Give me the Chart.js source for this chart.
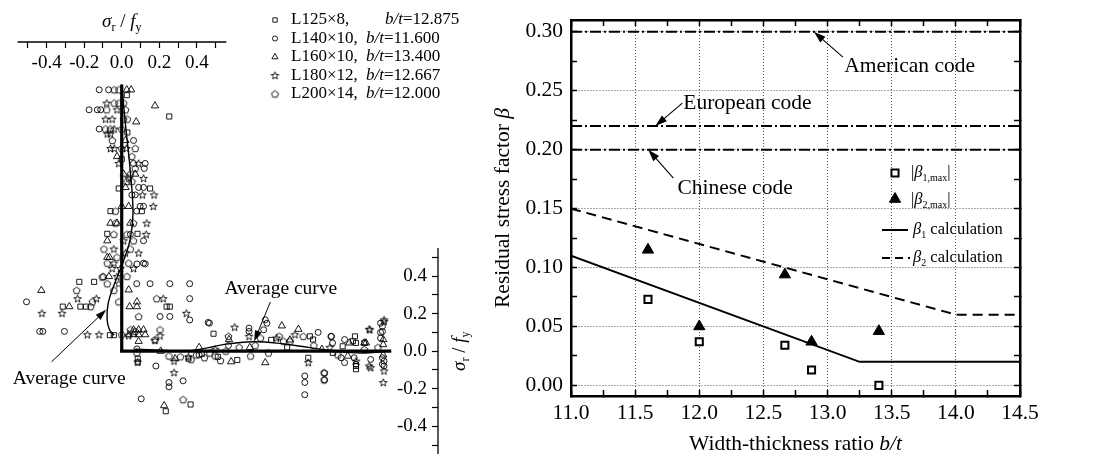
<!DOCTYPE html>
<html lang="en">
<head>
<meta charset="UTF-8">
<title>Residual stress of angles</title>
<script src="https://cdn.jsdelivr.net/npm/chart.js"></script>
<style>
  body { margin: 0; background: #fff; }
  #wrap { position: relative; width: 1101px; height: 459px; overflow: hidden; }
  #left { position: absolute; left: 0; top: 0; }
  #right { position: absolute; left: 480px; top: 0; }
</style>
</head>
<body>
<div id="wrap">
  <canvas id="left" width="480" height="459"></canvas>
  <canvas id="right" width="621" height="459"></canvas>
</div>
<script>
// ---------- left panel data ----------
const specimens = ['L125×8', 'L140×10', 'L160×10', 'L180×12', 'L200×14'];
const specimenRatio = ['12.875', '11.600', '13.400', '12.667', '12.000'];
const sigmaTicks = [-0.4, -0.2, 0.0, 0.2, 0.4];

// vertical leg: [sigma_r/f_y, position along leg (% of b)]
const vertL125 = [[0.027,96],[0.253,88],[-0.016,61],[0.151,61],[-0.06,52.5],[0.107,52.5],[-0.077,44],[0.084,44],
  [-0.226,26],[-0.147,26],[-0.314,16.7],[-0.22,16.7],[-0.19,16.7],[0.256,16.7],[0.239,16.7],[-0.063,6],[-0.042,6],[0.0,72],[0.03,82]];
const vertL140 = [[-0.12,98],[-0.07,98],[-0.174,90.5],[-0.13,90.5],[-0.112,90.5],[-0.12,83.3],[0.063,79],[0.063,70.4],
  [0.125,70.4],[0.12,68.5],[0.09,61.4],[0.116,61.4],[0.054,58.6],[0.072,58.6],[0.098,54.3],[0.116,54.3],[0.08,52.5],
  [0.046,43.8],[0.116,41.4],[0.116,33],[0.08,25.3],[0.151,25.3],[0.256,25.3],[0.362,25.3],[0.362,19.7],[0.204,13],
  [0.256,13],[0.362,11.7],[0.467,10.5],[-0.437,7.4],[-0.42,7.4],[-0.305,7.4],[-0.507,18.5],[0.081,32.7],[0.125,32.7]];
const vertL160 = [[0.027,98],[0.05,98],[0.177,92],[0.077,86],[0.02,79],[-0.025,73],[0.01,66.4],[0.072,66.4],[0.02,61.4],
  [0,54.3],[0.037,54.3],[-0.06,48],[0.046,48],[-0.025,48],[-0.077,41.4],[-0.077,35.2],[-0.065,35.2],[-0.068,28],
  [-0.428,22.8],[0.037,23],[0.081,18.5],[0.042,16.7],[0.081,16.7],[0.063,8],[0.09,8],[0.116,8],[0.037,6.2],[0.063,6.2],
  [0.09,6.2],[0.125,6.2],[-0.279,16.7],[0.09,3.7]];
const vertL180 = [[-0.08,93],[-0.025,90.5],[-0.086,87],[-0.051,87],[-0.04,83.3],[-0.077,81.5],[-0.06,81.5],[-0.06,76],
  [-0.04,76],[0.025,76],[-0.016,70.4],[0.09,70.4],[0.037,64.8],[0.116,64.8],[0.11,58.6],[0.172,58.6],[0.168,54.3],
  [0.133,48],[0.13,43.8],[0.01,41.4],[-0.042,38.3],[0.02,36.8],[0.09,36.8],[-0.042,33],[-0.051,31],[-0.007,31],[0.063,31],
  [-0.025,28],[-0.016,25.3],[-0.235,19.7],[-0.135,19.7],[0.221,19.7],[-0.425,14.2],[-0.318,14.2],[0.344,14.2],
  [-0.183,6.2],[-0.121,6.2],[0.037,5.8],[0.204,5.8],[0.177,4]];
const vertL200 = [[-0.04,98],[-0.015,98],[-0.04,93],[-0.015,93],[0.01,93],[-0.08,90.5],[0.02,90.5],[0.01,87],[0.03,87],
  [-0.086,83.3],[-0.06,83.3],[0,83.3],[-0.05,79],[0,76],[0.072,76],[0.054,73],[0.072,68.5],[0.046,66.4],[0.028,63.6],
  [0.054,63.6],[-0.033,52.5],[-0.033,48],[0.063,48],[-0.042,43.8],[0.028,43.8],[0.063,41.4],[-0.095,38.3],[0.046,38.3],
  [-0.025,35.2],[-0.077,33],[0.037,33],[-0.098,28],[0.028,28],[-0.104,27.8],[-0.077,25.3],[-0.24,22.8],[-0.042,22.8],
  [0.186,19.7],[-0.156,18.5],[-0.016,18.5],[-0.165,16.7],[0.09,13],[0.072,7.4],[0.046,8],[0.204,8],[0.0,6.2],[0.177,4.3]];

// horizontal leg: [position along leg (% of b), sigma_r/f_y]
const horL125 = [[6,-0.04],[6,-0.06],[16.5,-0.32],[25.8,-0.284],[34.4,0.093],[43.3,-0.047],[30,-0.015],[69.9,-0.035],
  [70.5,0.079],[71.7,0.062],[79.1,-0.009],[87.4,0.079],[86.6,0.053],[82.8,0.026],[87.8,0.044],[87.8,-0.096],[90.9,0.044],
  [87.8,-0.079],[36,-0.03],[25,-0.04],[56,0.06],[62,0.02]];
const horL140 = [[5.7,0.012],[12.8,-0.079],[17.7,-0.167],[17.7,-0.19],[23,-0.158],[7.3,-0.254],[32.4,0.153],[47.7,0.123],
  [47.7,0.105],[53.2,0.114],[53.8,0.167],[54.4,0.149],[73.6,0.1],[78.5,0.079],[83.5,0.062],[68.6,-0.132],[68.6,-0.167],
  [68.6,-0.232],[76,-0.118],[76,-0.153],[83.5,-0.061],[97.7,0.132],[97.7,0.105],[97.7,-0.035],[97.7,-0.07],[97,0.149],
  [97,0.1],[97,0.07],[93.3,-0.044],[98.3,-0.053],[98.3,-0.079],[82.2,-0.035],[87.1,-0.035],[87.8,-0.07],[79,0.044],
  [40,0.03],[29,-0.02]];
const horL160 = [[14.6,0],[15.9,-0.29],[20,-0.04],[40.2,0.062],[41,-0.056],[53.8,-0.061],[60,0.135],[66.2,0.117],
  [85.3,0.044],[84.7,-0.026],[90.9,0.044],[91.5,0.044],[98,0.062],[98,0.035],[98,-0.02],[29,0.02],[63,0.06],[75,0.01],[48,0.02]];
const horL180 = [[6,-0.058],[19.6,-0.053],[19.6,-0.114],[42.3,0.128],[47.7,0.079],[64.9,0.088],[69.9,-0.061],[87.8,-0.053],
  [92.7,0.117],[92.7,-0.079],[93,0.114],[98.3,0.167],[98.3,0.158],[98.3,-0.105],[98,-0.167],[93.3,-0.088],[25,-0.03],
  [35,0.01],[58,0.07],[78,0.02]];
const horL200 = [[5.7,-0.009],[17.7,-0.026],[23,-0.258],[40,0.079],[48.3,-0.026],[52,0.07],[59,0.079],[60.6,0.053],
  [63.1,0.053],[68,0.079],[78.5,0.079],[75.8,-0.114],[75.8,-0.153],[22,-0.03],[26,-0.045],[28,-0.02],[31,-0.035],
  [33,-0.01],[35,-0.025],[37,-0.05],[39,0.0],[44,0.02],[50,0.03],[55,-0.01],[72,0.03],[81,-0.02],[90.9,0.009],[96,0.02]];

const vertAverage = [[0,100],[0.02,85],[0.045,68],[0.06,52],[0.045,42],[0.005,33],[-0.04,25],[-0.072,18],[-0.078,12],[-0.065,8],[-0.04,6]];
const horAverage = [[5,0.01],[15,0.005],[23,0.0],[30,0.012],[38,0.035],[49,0.05],[60,0.04],[70,0.02],[80,0.0],[90,-0.01],[100,0.0]];

// ---------- right panel data ----------
const ratioTicks = [11.0, 11.5, 12.0, 12.5, 13.0, 13.5, 14.0, 14.5];
const betaTicks = [0.00, 0.05, 0.10, 0.15, 0.20, 0.25, 0.30];
const widthThickness = [11.6, 12.0, 12.667, 12.875, 13.4];
const beta1Max = [0.073, 0.037, 0.034, 0.013, 0.000];
const beta2Max = [0.115, 0.050, 0.094, 0.037, 0.046];
const beta1CalcX = [11.0, 13.25, 14.5];
const beta1CalcY = [0.11, 0.02, 0.02];
const beta2CalcX = [11.0, 14.0, 14.5];
const beta2CalcY = [0.15, 0.06, 0.06];
const codeNames = ['American code', 'European code', 'Chinese code'];
const codeBeta = [0.30, 0.22, 0.20];

// ---------- helpers ----------
const FONT = '"Liberation Serif", "Times New Roman", serif';
Chart.defaults.font.family = FONT;
Chart.defaults.color = '#000';

const NONE = 'rgba(0,0,0,0)';
const near = (a, b) => Math.abs(a - b) < 1e-6;
const pts = arr => arr.map(([a, b]) => ({x: a, y: b}));
// scale box of a fixed size (0 = axis drawn on the edge of the plot area)
const fixedBox = size => s => {
  if (s.isHorizontal()) s.height = size; else s.width = size;
  s.paddingLeft = s.paddingRight = s.paddingTop = s.paddingBottom = 0;
};
const flat = fixedBox(0);

function markerCanvas(kind) {
  const c = document.createElement('canvas');
  c.width = 11; c.height = 11;
  const g = c.getContext('2d');
  g.strokeStyle = '#000'; g.lineWidth = 0.9;
  g.beginPath();
  const n = kind === 'star' ? 10 : 5;
  for (let i = 0; i < n; i++) {
    const ang = -Math.PI / 2 + i * 2 * Math.PI / n;
    const r = kind === 'star' ? (i % 2 ? 1.7 : 4.0) : 3.6;
    const px = 5.5 + r * Math.cos(ang), py = 5.8 + r * Math.sin(ang);
    if (i) g.lineTo(px, py); else g.moveTo(px, py);
  }
  g.closePath(); g.stroke();
  return c;
}
const starImg = markerCanvas('star');
const pentaImg = markerCanvas('penta');

const markers = [
  {pointStyle: 'rect', pointRadius: 3.6},
  {pointStyle: 'circle', pointRadius: 3},
  {pointStyle: 'triangle', pointRadius: 4.2},
  {pointStyle: starImg, pointRadius: 4},
  {pointStyle: pentaImg, pointRadius: 4}
];

function fontFor(p, size) {
  const s = p.sub ? Math.round(size * 0.62) : size;
  return (p.it ? 'italic ' : '') + s + 'px ' + FONT;
}
function richWidth(ctx, parts, size) {
  let w = 0;
  parts.forEach(p => { ctx.font = fontFor(p, size); w += ctx.measureText(p.t).width; });
  return w;
}
function drawRich(ctx, parts, x, y, size, align) {
  let cx = align === 'center' ? x - richWidth(ctx, parts, size) / 2 : x;
  ctx.textAlign = 'left';
  ctx.textBaseline = 'middle';
  parts.forEach(p => {
    ctx.font = fontFor(p, size);
    ctx.fillText(p.t, cx, y + (p.sub ? size * 0.32 : 0));
    cx += ctx.measureText(p.t).width;
  });
}
function arrow(ctx, x1, y1, x2, y2, head) {
  const a = Math.atan2(y2 - y1, x2 - x1);
  const c = Math.cos(a), s = Math.sin(a);
  ctx.beginPath();
  ctx.moveTo(x1, y1);
  ctx.lineTo(x2 - c * head * 0.8, y2 - s * head * 0.8);
  ctx.stroke();
  ctx.beginPath();
  ctx.moveTo(x2, y2);
  ctx.lineTo(x2 - head * c + head * 0.32 * s, y2 - head * s - head * 0.32 * c);
  ctx.lineTo(x2 - head * c - head * 0.32 * s, y2 - head * s + head * 0.32 * c);
  ctx.closePath();
  ctx.fill();
}

// ---------- left panel ----------
const ORIGIN = {x: 118, y: 355};   // corner of the angle, px
const SIGMA_PX = 190;              // px per unit of sigma_r/f_y
const POS_PX = 2.7;                // px per % of leg width
const AREA = {left: 0, top: 42, right: 438, bottom: 459};

const sigmaLabel = v => {
  const t = sigmaTicks.find(t => near(t, v));
  return t === undefined ? '' : t.toFixed(1);
};
const onSigmaAxis = c => c.tick && Math.abs(c.tick.value) <= 0.5 + 1e-6 ? '#000' : NONE;

const sigmaSymbol = [{t: 'σ', it: true}, {t: 'r', sub: true}, {t: ' / '}, {t: 'f', it: true}, {t: 'y', sub: true}];

const leftDecor = {
  id: 'leftDecor',
  afterDraw(chart) {
    const {ctx, chartArea: a} = chart;
    const {xs, ys, xp, yp} = chart.scales;
    ctx.save();
    ctx.strokeStyle = '#000';
    ctx.fillStyle = '#000';
    ctx.lineWidth = 1.3;
    ctx.beginPath();
    ctx.moveTo(xs.getPixelForValue(-0.555), a.top);
    ctx.lineTo(xs.getPixelForValue(0.557), a.top);
    ctx.stroke();
    ctx.beginPath();
    ctx.moveTo(a.right, ys.getPixelForValue(0.55));
    ctx.lineTo(a.right, a.bottom);
    ctx.stroke();

    // axis titles
    drawRich(ctx, sigmaSymbol, xs.getPixelForValue(0), 22, 19, 'center');
    ctx.save();
    ctx.translate(a.right + 22, ys.getPixelForValue(0));
    ctx.rotate(-Math.PI / 2);
    drawRich(ctx, sigmaSymbol, 0, 0, 19, 'center');
    ctx.restore();

    // legend
    specimens.forEach((name, i) => {
      const y = 20 + i * 18.5;
      const m = markers[i];
      ctx.lineWidth = 0.9;
      ctx.fillStyle = NONE;
      Chart.helpers.drawPoint(ctx, {pointStyle: m.pointStyle, radius: m.pointRadius * 0.85, borderWidth: 0.9}, 275, y);
      ctx.fillStyle = '#000';
      drawRich(ctx, [{t: name + ','}], 291, y, 17, 'left');
      drawRich(ctx, [{t: 'b/t', it: true}, {t: '=' + specimenRatio[i]}], i === 0 ? 385 : 366, y, 17, 'left');
    });

    // "Average curve" notes
    ctx.lineWidth = 1;
    arrow(ctx, xs.getPixelForValue(-0.374), yp.getPixelForValue(-4), xs.getPixelForValue(-0.083), yp.getPixelForValue(15.5), 11);
    drawRich(ctx, [{t: 'Average curve'}], xs.getPixelForValue(-0.58), yp.getPixelForValue(-10.2), 19.5, 'left');
    arrow(ctx, xp.getPixelForValue(55.7), ys.getPixelForValue(0.262), xp.getPixelForValue(49.6), ys.getPixelForValue(0.052), 11);
    drawRich(ctx, [{t: 'Average curve'}], xp.getPixelForValue(38.5), ys.getPixelForValue(0.33), 19.5, 'left');
    ctx.restore();
  }
};

const vertSets = [vertL125, vertL140, vertL160, vertL180, vertL200];
const horSets = [horL125, horL140, horL160, horL180, horL200];
const leftDatasets = [];
specimens.forEach((name, i) => {
  const common = Object.assign({borderColor: '#000', backgroundColor: NONE, borderWidth: 0.9}, markers[i]);
  leftDatasets.push(Object.assign({label: name, data: pts(vertSets[i]), xAxisID: 'xs', yAxisID: 'yp'}, common));
  leftDatasets.push(Object.assign({label: name, data: pts(horSets[i]), xAxisID: 'xp', yAxisID: 'ys'}, common));
});
const lineStyle = {showLine: true, pointRadius: 0, borderColor: '#000', fill: false};
leftDatasets.push(Object.assign({label: 'average vertical', data: pts(vertAverage), xAxisID: 'xs', yAxisID: 'yp',
  borderWidth: 1.4, tension: 0.4}, lineStyle));
leftDatasets.push(Object.assign({label: 'average horizontal', data: pts(horAverage), xAxisID: 'xp', yAxisID: 'ys',
  borderWidth: 1.4, tension: 0.4}, lineStyle));
leftDatasets.push(Object.assign({label: 'leg 1', data: [{x: 0, y: 0}, {x: 0, y: 100}], xAxisID: 'xs', yAxisID: 'yp',
  borderWidth: 3.2}, lineStyle));
leftDatasets.push(Object.assign({label: 'leg 2', data: [{x: -0.6, y: 0}, {x: 101, y: 0}], xAxisID: 'xp', yAxisID: 'ys',
  borderWidth: 3.2}, lineStyle));

new Chart(document.getElementById('left'), {
  type: 'scatter',
  data: {datasets: leftDatasets},
  options: {
    responsive: false,
    animation: false,
    events: [],
    layout: {padding: {left: AREA.left, top: AREA.top, right: 480 - AREA.right, bottom: 459 - AREA.bottom}},
    plugins: {legend: {display: false}, tooltip: {enabled: false}},
    scales: {
      xs: {
        type: 'linear', axis: 'x', position: 'top',
        min: (AREA.left - ORIGIN.x) / SIGMA_PX, max: (AREA.right - ORIGIN.x) / SIGMA_PX,
        afterFit: flat,
        grid: {drawOnChartArea: false, tickLength: -6, tickWidth: 1.2, tickColor: onSigmaAxis},
        border: {display: false},
        ticks: {stepSize: 0.1, autoSkip: false, maxRotation: 0, minRotation: 0, includeBounds: false,
          mirror: true, padding: 10, font: {size: 19}, callback: sigmaLabel}
      },
      ys: {
        type: 'linear', axis: 'y', position: 'right',
        min: (ORIGIN.y - AREA.bottom) / SIGMA_PX, max: (ORIGIN.y - AREA.top) / SIGMA_PX,
        afterFit: flat,
        grid: {drawOnChartArea: false, tickLength: -6, tickWidth: 1.2, tickColor: onSigmaAxis},
        border: {display: false},
        ticks: {stepSize: 0.1, autoSkip: false, includeBounds: false,
          mirror: true, padding: -11, font: {size: 19}, callback: sigmaLabel}
      },
      xp: {
        type: 'linear', axis: 'x', position: 'bottom', display: false,
        min: (AREA.left - ORIGIN.x) / POS_PX, max: (AREA.right - ORIGIN.x) / POS_PX
      },
      yp: {
        type: 'linear', axis: 'y', position: 'left', display: false,
        min: (ORIGIN.y - AREA.bottom) / POS_PX, max: (ORIGIN.y - AREA.top) / POS_PX
      }
    }
  },
  plugins: [leftDecor]
});

// ---------- right panel ----------
const isRatioTick = v => ratioTicks.some(t => near(t, v));
const isBetaTick = v => betaTicks.some(t => near(t, v));
const dotted = '#555';

const codeNotes = [
  {tip: [12.893, 0.30], tail: [13.12, 0.2785], at: [13.13, 0.2705]},
  {tip: [11.657, 0.22], tail: [11.868, 0.2395], at: [11.875, 0.2395]},
  {tip: [11.602, 0.20], tail: [11.798, 0.1759], at: [11.83, 0.1672]}
];

const rightDecor = {
  id: 'rightDecor',
  afterDraw(chart) {
    const {ctx, chartArea: a} = chart;
    const {x, y} = chart.scales;
    ctx.save();
    ctx.fillStyle = '#000';
    ctx.strokeStyle = '#000';

    // code notes
    ctx.lineWidth = 1.1;
    codeNotes.forEach((n, i) => {
      arrow(ctx, x.getPixelForValue(n.tail[0]), y.getPixelForValue(n.tail[1]),
        x.getPixelForValue(n.tip[0]), y.getPixelForValue(n.tip[1]), 12);
      drawRich(ctx, [{t: codeNames[i]}], x.getPixelForValue(n.at[0]), y.getPixelForValue(n.at[1]), 21.5, 'left');
    });

    // axis titles
    drawRich(ctx, [{t: 'Width-thickness ratio '}, {t: 'b/t', it: true}], (a.left + a.right) / 2, 444, 21.5, 'center');
    ctx.save();
    ctx.translate(23, (a.top + a.bottom) / 2);
    ctx.rotate(-Math.PI / 2);
    drawRich(ctx, [{t: 'Residual stress factor '}, {t: 'β', it: true}], 0, 0, 21.5, 'center');
    ctx.restore();

    // legend
    const lx = a.left + 324, tx = a.left + 342;
    const rows = [a.top + 153, a.top + 180, a.top + 210, a.top + 238];
    ctx.lineWidth = 2;
    ctx.fillStyle = '#fff';
    Chart.helpers.drawPoint(ctx, {pointStyle: 'rect', radius: 5, borderWidth: 2}, lx, rows[0]);
    ctx.fillStyle = '#000';
    ctx.lineWidth = 1;
    Chart.helpers.drawPoint(ctx, {pointStyle: 'triangle', radius: 6.5, borderWidth: 1}, lx, rows[1] - 1);
    ctx.lineWidth = 2;
    ctx.beginPath(); ctx.moveTo(lx - 13, rows[2]); ctx.lineTo(lx + 13, rows[2]); ctx.stroke();
    ctx.setLineDash([8, 5]);
    ctx.beginPath(); ctx.moveTo(lx - 13, rows[3]); ctx.lineTo(lx + 15, rows[3]); ctx.stroke();
    ctx.setLineDash([]);
    drawRich(ctx, [{t: '|'}, {t: 'β', it: true}, {t: '1,max', sub: true}, {t: '|'}], tx - 2, rows[0], 16.5, 'left');
    drawRich(ctx, [{t: '|'}, {t: 'β', it: true}, {t: '2,max', sub: true}, {t: '|'}], tx - 2, rows[1], 16.5, 'left');
    drawRich(ctx, [{t: 'β', it: true}, {t: '1', sub: true}, {t: ' calculation'}], tx, rows[2], 16.5, 'left');
    drawRich(ctx, [{t: 'β', it: true}, {t: '2', sub: true}, {t: ' calculation'}], tx, rows[3], 16.5, 'left');
    ctx.restore();
  }
};

const xMin = ratioTicks[0], xMax = ratioTicks[ratioTicks.length - 1];
const rightDatasets = [
  {label: '|β1,max|', data: widthThickness.map((v, i) => ({x: v, y: beta1Max[i]})),
    pointStyle: 'rect', pointRadius: 5, borderWidth: 2, borderColor: '#000', backgroundColor: '#fff'},
  {label: '|β2,max|', data: widthThickness.map((v, i) => ({x: v, y: beta2Max[i]})),
    pointStyle: 'triangle', pointRadius: 6.5, borderWidth: 1, borderColor: '#000', backgroundColor: '#000'},
  {label: 'β1 calculation', data: beta1CalcX.map((v, i) => ({x: v, y: beta1CalcY[i]})),
    showLine: true, pointRadius: 0, borderColor: '#000', borderWidth: 2},
  {label: 'β2 calculation', data: beta2CalcX.map((v, i) => ({x: v, y: beta2CalcY[i]})),
    showLine: true, pointRadius: 0, borderColor: '#000', borderWidth: 2, borderDash: [10, 6]}
];
codeBeta.forEach((b, i) => rightDatasets.push({
  label: codeNames[i], data: [{x: xMin, y: b}, {x: xMax, y: b}],
  showLine: true, pointRadius: 0, borderColor: '#000', borderWidth: 2, borderDash: [11, 3, 2, 3]
}));

const frame = {display: true, color: '#000', width: 2.5, dash: [1, 2]};
new Chart(document.getElementById('right'), {
  type: 'scatter',
  data: {datasets: rightDatasets},
  options: {
    responsive: false,
    animation: false,
    events: [],
    layout: {padding: {left: 0, right: 81, top: 20, bottom: 0}},
    plugins: {legend: {display: false}, tooltip: {enabled: false}},
    scales: {
      x: {
        type: 'linear', position: 'bottom', min: xMin, max: xMax, afterFit: fixedBox(63),
        grid: {color: c => c.tick && isRatioTick(c.tick.value) ? dotted : NONE, lineWidth: 1,
          tickLength: -6, tickWidth: 1.5, tickColor: '#000'},
        border: frame,
        ticks: {stepSize: 0.25, autoSkip: false, maxRotation: 0, minRotation: 0, includeBounds: false,
          padding: 10, font: {size: 21.5},
          callback: v => isRatioTick(v) ? ratioTicks.find(t => near(t, v)).toFixed(1) : ''}
      },
      x2: {
        type: 'linear', axis: 'x', position: 'top', min: xMin, max: xMax, afterFit: flat,
        grid: {drawOnChartArea: false, tickLength: -6, tickWidth: 1.5, tickColor: '#000'},
        border: frame,
        ticks: {stepSize: 0.25, autoSkip: false, includeBounds: false, display: false}
      },
      y: {
        type: 'linear', position: 'left', min: -0.009, max: 0.31, afterFit: fixedBox(91),
        grid: {color: c => c.tick && isBetaTick(c.tick.value) ? dotted : NONE, lineWidth: 1,
          tickLength: -6, tickWidth: 1.5, tickColor: '#000'},
        border: frame,
        ticks: {stepSize: 0.025, autoSkip: false, includeBounds: false, padding: 14, font: {size: 21.5},
          callback: v => isBetaTick(v) ? betaTicks.find(t => near(t, v)).toFixed(2) : ''}
      },
      y2: {
        type: 'linear', axis: 'y', position: 'right', min: -0.009, max: 0.31, afterFit: flat,
        grid: {drawOnChartArea: false, tickLength: -6, tickWidth: 1.5, tickColor: '#000'},
        border: frame,
        ticks: {stepSize: 0.025, autoSkip: false, includeBounds: false, display: false}
      }
    }
  },
  plugins: [rightDecor]
});
</script>
</body>
</html>
